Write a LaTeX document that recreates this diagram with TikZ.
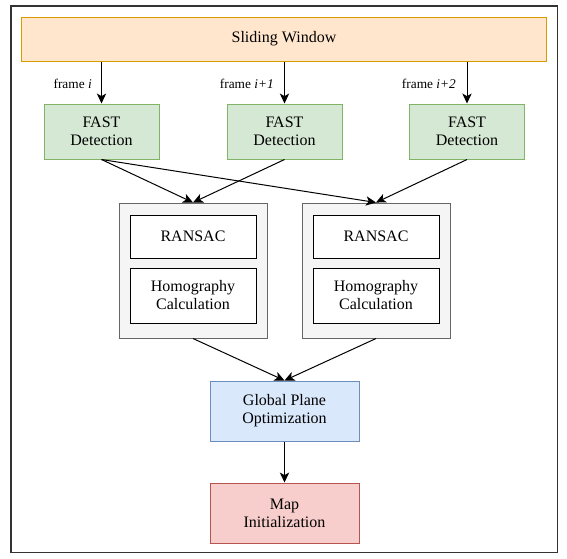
\documentclass[tikz,border=0pt]{standalone}
\usepackage{fontspec}
\setmainfont{Liberation Serif}
\usetikzlibrary{arrows.meta}
\definecolor{swfill}{HTML}{FFE6CC}
\definecolor{swdraw}{HTML}{D79B00}
\definecolor{fastfill}{HTML}{D5E8D4}
\definecolor{fastdraw}{HTML}{82B366}
\definecolor{grpfill}{HTML}{F5F5F5}
\definecolor{grpdraw}{HTML}{666666}
\definecolor{optfill}{HTML}{DAE8FC}
\definecolor{optdraw}{HTML}{6C8EBF}
\definecolor{mapfill}{HTML}{F8CECC}
\definecolor{mapdraw}{HTML}{B85450}
\tikzset{
    flow/.style={-{Stealth[length=7.5pt,width=7pt,inset=2pt]}},
    box/.style={rectangle,draw,align=center,inner sep=0pt,line width=0.75pt,font=\fontsize{12}{13.5}\selectfont},
    window/.style={box,fill=swfill,draw=swdraw,minimum width=393.75pt,minimum height=33pt},
    fast/.style={box,fill=fastfill,draw=fastdraw,minimum width=86.25pt,minimum height=41.25pt},
    group/.style={box,fill=grpfill,draw=grpdraw,minimum width=111pt,minimum height=101.25pt},
    inner/.style={box,fill=white,draw=black,minimum width=94.5pt},
    stage/.style={box,minimum width=111.75pt,minimum height=45pt},
    flabel/.style={font=\fontsize{10}{12}\selectfont,inner sep=0pt},
    every edge/.append style={line width=0.75pt,flow},
}
\begin{document}
\begin{tikzpicture}[x=0.75pt,y=-0.75pt]
    \useasboundingbox (0,0) rectangle (567,558);
    \draw[line width=1pt,draw=black!80] (11,6) rectangle (557.5,552.5);

    \node[window] (sw) at (284,39) {Sliding Window};

    \node[fast] (fast1) at (101.5,131.5) {FAST\\Detection};
    \node[fast] (fast2) at (284.5,131.5) {FAST\\Detection};
    \node[fast] (fast3) at (467,131.5) {FAST\\Detection};

    \node[flabel,anchor=east] (lbl1) at (92,84) {frame \textit{i}};
    \node[flabel,anchor=east] (lbl2) at (274,84) {frame \textit{i+1}};
    \node[flabel,anchor=east] (lbl3) at (456,84) {frame \textit{i+2}};

    \node[group] (grp1) at (193,270.5) {};
    \node[group] (grp2) at (376,270.5) {};
    \node[inner,minimum height=32.25pt] (ransac1) at (193,236.5) {RANSAC};
    \node[inner,minimum height=41.25pt] (homo1) at (193,295.5) {Homography\\Calculation};
    \node[inner,minimum height=32.25pt] (ransac2) at (376,236.5) {RANSAC};
    \node[inner,minimum height=41.25pt] (homo2) at (376,295.5) {Homography\\Calculation};

    \node[stage,fill=optfill,draw=optdraw] (opt) at (284.5,411) {Global Plane\\Optimization};
    \node[stage,fill=mapfill,draw=mapdraw] (map) at (284.5,513) {Map\\Initialization};

    \path (sw.south -| fast1.north) edge (fast1.north)
          (sw.south -| fast2.north) edge (fast2.north)
          (sw.south -| fast3.north) edge (fast3.north);
    \path (fast1.south) edge (grp1.north)
                        edge (grp2.north);
    \path (fast2.south) edge (grp1.north);
    \path (fast3.south) edge (grp2.north);
    \path (grp1.south) edge (opt.north)
          (grp2.south) edge (opt.north);
    \path (opt.south) edge (map.north);
\end{tikzpicture}
\end{document}
